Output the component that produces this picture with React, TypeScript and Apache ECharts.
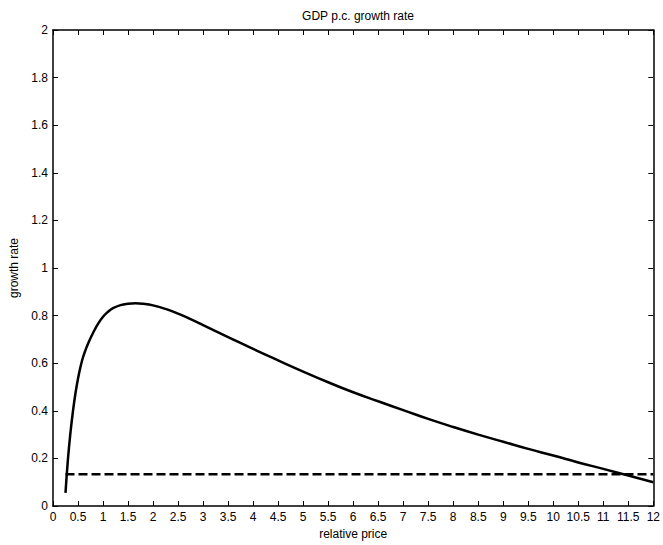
import React, { useEffect, useRef } from "react";
import * as echarts from "echarts";

const curveX = [0.25, 0.3, 0.35, 0.4, 0.45, 0.5, 0.55, 0.6, 0.65, 0.7, 0.8, 0.9, 1.0, 1.1, 1.2, 1.35, 1.5, 1.65, 1.8, 2.0, 2.25, 2.5, 2.75, 3.0, 3.5, 4.0, 4.5, 5.0, 5.5, 6.0, 6.5, 7.0, 7.5, 8.0, 8.5, 9.0, 9.5, 10.0, 10.5, 11.0, 11.5, 12.0];
const curveY = [0.055, 0.2, 0.31, 0.4, 0.475, 0.535, 0.585, 0.625, 0.655, 0.682, 0.727, 0.765, 0.795, 0.816, 0.831, 0.844, 0.85, 0.852, 0.85, 0.843, 0.828, 0.808, 0.785, 0.76, 0.71, 0.66, 0.612, 0.565, 0.52, 0.478, 0.44, 0.403, 0.366, 0.332, 0.3, 0.27, 0.24, 0.212, 0.183, 0.156, 0.128, 0.1];
const dashX = [0.25, 12];
const dashY = [0.133, 0.133];

const xTickStep = 0.5;
const yTickStep = 0.2;

export default function App() {
  const ref = useRef<HTMLDivElement>(null);
  useEffect(() => {
    document.body.style.margin = "0";
    const chart = echarts.init(ref.current!, null, { renderer: "svg" });
    const font = "Liberation Sans, Arial, sans-serif";
    const fmt = (v: number) => String(Math.round(v * 10) / 10);
    const axisLine = { show: true, onZero: false, lineStyle: { color: "#000", width: 1.5 } };
    const tick = { show: true, inside: true, length: 5, lineStyle: { color: "#000", width: 1 } };
    chart.setOption({
      animation: false,
      backgroundColor: "#fff",
      title: {
        text: "GDP p.c. growth rate",
        left: 353,
        top: 5,
        textAlign: "center",
        textStyle: { fontFamily: font, fontSize: 12, fontWeight: "normal", color: "#000" },
      },
      grid: { left: 52, top: 30, right: 8, bottom: 39, containLabel: false },
      xAxis: [
        {
          type: "value", min: 0, max: 12, interval: xTickStep, position: "bottom",
          axisLine, axisTick: tick, splitLine: { show: false },
          axisLabel: { color: "#000", fontFamily: font, fontSize: 12, margin: 5, formatter: fmt },
          name: "relative price", nameLocation: "middle", nameGap: 21,
          nameTextStyle: { color: "#000", fontFamily: font, fontSize: 12 },
        },
        {
          type: "value", min: 0, max: 12, interval: xTickStep, position: "top",
          axisLine, axisTick: tick, splitLine: { show: false }, axisLabel: { show: false },
        },
      ],
      yAxis: [
        {
          type: "value", min: 0, max: 2, interval: yTickStep, position: "left",
          axisLine, axisTick: tick, splitLine: { show: false },
          axisLabel: { color: "#000", fontFamily: font, fontSize: 12, margin: 5, formatter: fmt },
          name: "growth rate", nameLocation: "middle", nameGap: 33, nameRotate: 90,
          nameTextStyle: { color: "#000", fontFamily: font, fontSize: 12 },
        },
        {
          type: "value", min: 0, max: 2, interval: yTickStep, position: "right",
          axisLine, axisTick: tick, splitLine: { show: false }, axisLabel: { show: false },
        },
      ],
      series: [
        {
          type: "line",
          data: curveX.map((x, i) => [x, curveY[i]]),
          smooth: 0.5,
          showSymbol: false,
          lineStyle: { color: "#000", width: 2.5 },
        },
        {
          type: "line",
          data: dashX.map((x, i) => [x, dashY[i]]),
          showSymbol: false,
          lineStyle: { color: "#000", width: 2.5, type: [9, 4] },
        },
      ],
    });
    return () => chart.dispose();
  }, []);
  return <div ref={ref} style={{ width: 663, height: 545 }} />;
}
